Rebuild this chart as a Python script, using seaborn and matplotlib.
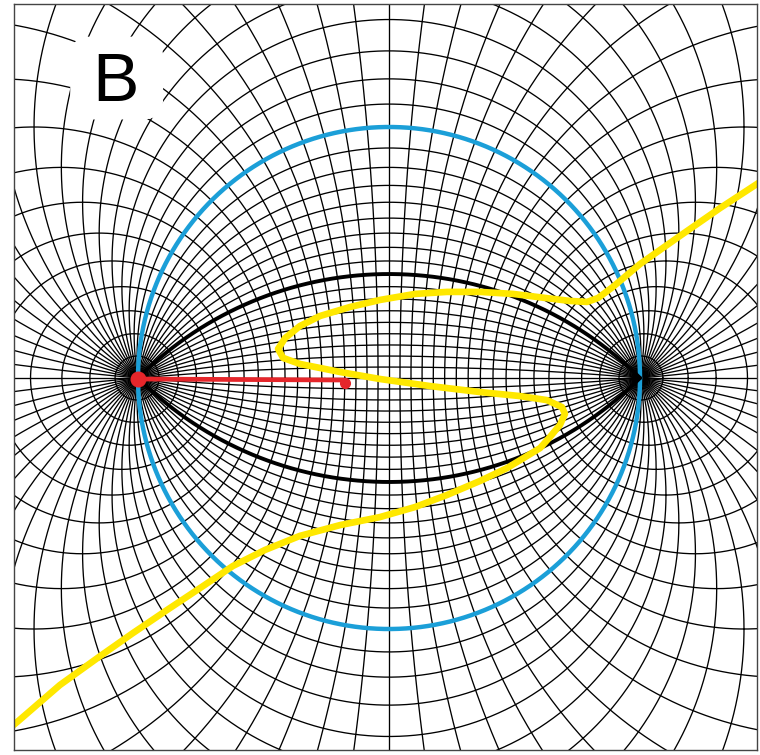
import numpy as np
import pandas as pd
import matplotlib
matplotlib.use("Agg")
import matplotlib.pyplot as plt
from matplotlib.patches import FancyBboxPatch
import seaborn as sns

# Bipolar grid, foci at x = -1 and x = +1 (unit = half the focal distance).
# Circles through both foci every 5 degrees; circles around each focus that
# cross the axis at t = tan(psi), psi every 2.5 degrees (they cut the blue
# circle every 5 degrees).
sigma_deg = list(range(5, 180, 5))
psi_deg = [2.5 * k for k in range(1, 18)]

blue_sigma_deg = 90
lens_sigma_deg = 135

# yellow curve
yellow_x = [1.478, 1.319, 1.159, 1.000, 0.892, 0.833, 0.789, 0.721, 0.622, 0.494,
            0.363, 0.231, 0.104, -0.036, -0.155, -0.275, -0.355, -0.414, -0.442,
            -0.422, -0.355, -0.195, -0.036, 0.163, 0.363, 0.522, 0.629, 0.689,
            0.701, 0.681, 0.641, 0.602, 0.470, 0.363, 0.231, 0.104, -0.036,
            -0.195, -0.355, -0.494, -0.622, -0.753, -0.884, -1.020, -1.151,
            -1.311, -1.482, -1.530]
yellow_y = [0.781, 0.677, 0.566, 0.454, 0.363, 0.319, 0.303, 0.307, 0.319, 0.335,
            0.343, 0.343, 0.335, 0.311, 0.283, 0.247, 0.207, 0.159, 0.116,
            0.080, 0.056, 0.024, -0.004, -0.032, -0.056, -0.072, -0.088, -0.116,
            -0.143, -0.187, -0.235, -0.279, -0.359, -0.410, -0.466, -0.514, -0.554,
            -0.586, -0.629, -0.685, -0.749, -0.837, -0.924, -1.016, -1.108,
            -1.223, -1.371, -1.410]

red_x = [-1.0, -0.175]
red_y = [-0.004, -0.008]

panel_label = "B"


def circle(cx, cy, r, name, n=3000):
    th = np.linspace(0, 2 * np.pi, n)
    return pd.DataFrame({"x": cx + r * np.cos(th), "y": cy + r * np.sin(th), "curve": name})


parts = []
for s in sigma_deg:
    s_rad = np.deg2rad(s)
    parts.append(circle(0.0, 1 / np.tan(s_rad), 1 / np.sin(s_rad), f"s{s}"))
for p in psi_deg:
    t = np.tan(np.deg2rad(p))
    c, r = (1 + t * t) / (2 * t), (1 - t * t) / (2 * t)
    parts.append(circle(-c, 0.0, r, f"tl{p}"))
    parts.append(circle(c, 0.0, r, f"tr{p}"))
parts.append(pd.DataFrame({"x": [-3, 3], "y": [0, 0], "curve": "axis"}))
parts.append(pd.DataFrame({"x": [0, 0], "y": [-3, 3], "curve": "bisector"}))
grid = pd.concat(parts, ignore_index=True)

sns.set_style("white")

fig = plt.figure(figsize=(7.6, 7.55), dpi=100)
ax = fig.add_axes([14 / 760, 5 / 755, 743 / 760, 746 / 755])

sns.lineplot(data=grid, x="x", y="y", units="curve", estimator=None, sort=False,
             color="black", linewidth=0.95, ax=ax)

# blue circle (sigma = 90 deg)
blue = circle(0.0, 1 / np.tan(np.deg2rad(blue_sigma_deg)), 1 / np.sin(np.deg2rad(blue_sigma_deg)), "blue")
sns.lineplot(data=blue, x="x", y="y", estimator=None, sort=False,
             color="#1b9fd8", linewidth=3.2, ax=ax)

# black lens (sigma = +-135 deg), only the arcs between the foci
ls = np.deg2rad(lens_sigma_deg)
lens_r = 1 / np.sin(ls)
lens_c = 1 / np.tan(ls)
half = np.arcsin(1 / lens_r)
th = np.linspace(np.pi / 2 - half, np.pi / 2 + half, 400)
lens = pd.concat([
    pd.DataFrame({"x": lens_r * np.cos(th), "y": lens_c + lens_r * np.sin(th), "curve": "up"}),
    pd.DataFrame({"x": lens_r * np.cos(th), "y": -lens_c - lens_r * np.sin(th), "curve": "down"}),
])
sns.lineplot(data=lens, x="x", y="y", units="curve", estimator=None, sort=False,
             color="black", linewidth=2.8, ax=ax)

yellow = pd.DataFrame({"x": yellow_x, "y": yellow_y})
sns.lineplot(data=yellow, x="x", y="y", estimator=None, sort=False,
             color="#ffe800", linewidth=4.8, ax=ax, solid_capstyle="round")

red = pd.DataFrame({"x": red_x, "y": red_y})
sns.lineplot(data=red, x="x", y="y", estimator=None, sort=False,
             color="#e5262b", linewidth=3.4, ax=ax)
ax.plot(red_x[0], red_y[0], "o", color="#e5262b", ms=10.5, zorder=5)
ax.plot(red_x[1], red_y[1] - 0.01, "o", color="#e5262b", ms=7, zorder=5)

# label with white rounded patch behind it
ax.add_patch(FancyBboxPatch((-1.26, 1.04), 0.35, 0.31,
                            boxstyle="round,pad=0.01,rounding_size=0.08",
                            fc="white", ec="none", zorder=6))
ax.text(-1.088, 1.175, panel_label, fontsize=50, color="black",
        family=["Liberation Sans", "DejaVu Sans"],
        ha="center", va="center", zorder=7)

ax.set_xlim(-1.494, 1.466)
ax.set_ylim(-1.482, 1.490)
ax.set_aspect("equal")
ax.set_xticks([])
ax.set_yticks([])
ax.set_xlabel("")
ax.set_ylabel("")
for sp in ax.spines.values():
    sp.set_color("#444444")
    sp.set_linewidth(1.0)

fig.savefig("out.png", dpi=100, facecolor="white")
